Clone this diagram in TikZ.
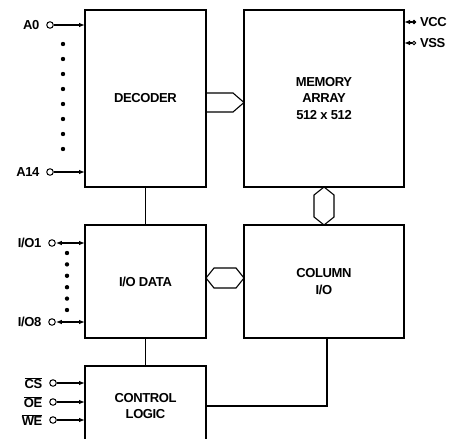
\documentclass[tikz,border=0pt]{standalone}
\usepackage{fontspec}
\setmainfont{Liberation Sans}[LetterSpace=-3]
\usetikzlibrary{positioning,arrows.meta,calc}

\begin{document}
\begin{tikzpicture}[
  x=1pt, y=-1pt,
  node distance=38pt,
  line width=1.1pt,
  font=\fontsize{13}{16.5}\selectfont\bfseries,
  blk/.style={draw=black, inner sep=0pt, outer sep=0pt, align=center},
  pad/.style={draw=black, circle, fill=white, inner sep=0pt, minimum size=6.5pt, line width=1pt},
  sup/.style={draw=black, circle, inner sep=0pt, minimum size=3.5pt, line width=0.8pt},
  bus/.style={draw=black, line width=1.1pt, line join=miter},
  sig/.style={-{Latex[length=6pt,width=4.5pt]}},
  bid/.style={{Latex[length=6pt,width=4.5pt]}-{Latex[length=6pt,width=4.5pt]}}]
\useasboundingbox (0,0) rectangle (454,438);
% blocks
\node[blk, minimum width=121pt, minimum height=177pt] (dec) at (145.5,98.5) {DECODER};
\node[blk, minimum width=160pt, minimum height=177pt, right=of dec] (mem) {MEMORY\\ARRAY\\512 x 512};
\node[blk, minimum width=121pt, minimum height=113pt, below=of dec] (io) {I/O DATA};
\node[blk, minimum width=160pt, minimum height=113pt, right=of io] (col) {COLUMN\\I/O};
\node[blk, minimum width=121pt, minimum height=80pt, below=28pt of io] (ctrl) {CONTROL\\LOGIC};
% address pins
\node[pad, label={[label distance=3pt]left:A0}] (a0) at (50,25) {};
\node[pad, label={[label distance=3pt]left:A14}] (a14) at (50,172) {};
\draw[sig] (a0) -- (a0 -| dec.west);
\draw[sig] (a14) -- (a14 -| dec.west);
\foreach \i in {0,...,7}
  \fill (63,44+15*\i) circle (2.2pt);
% data pins
\node[pad, label={[label distance=3pt]left:I/O1}] (io1) at (52,243) {};
\node[pad, label={[label distance=3pt]left:I/O8}] (io8) at (52,322) {};
\draw[bid] (io1) -- (io1 -| io.west);
\draw[bid] (io8) -- (io8 -| io.west);
\foreach \i in {0,...,5}
  \fill (67,253+11.4*\i) circle (2.2pt);
% control pins
\node[pad, label={[label distance=3pt]left:$\overline{\mbox{CS}}$}] (cs) at (53,383) {};
\node[pad, label={[label distance=3pt]left:$\overline{\mbox{OE}}$}] (oe) at (53,402) {};
\node[pad, label={[label distance=3pt]left:$\overline{\mbox{WE}}$}] (we) at (53,420) {};
\foreach \p in {cs,oe,we}
  \draw[sig] (\p) -- (\p -| ctrl.west);
% supply pins
\node[sup, fill=black, label={[label distance=0pt]right:VCC}] (vcc) at (414,22) {};
\node[sup, fill=white, label={[label distance=0pt]right:VSS}] (vss) at (414,43) {};
\draw[sig] (vcc) -- (vcc -| mem.east);
\draw[sig] (vss) -- (vss -| mem.east);
% buses
\coordinate (b1) at ($(dec.east)+(0,4)$);
\draw[bus] ($(b1)+(0,-9.5)$) -- ($(b1 -| mem.west)+(-11,-9.5)$) -- (b1 -| mem.west)
  -- ($(b1 -| mem.west)+(-11,9.5)$) -- ($(b1)+(0,9.5)$);
\coordinate (b2) at (mem.south);
\draw[bus] (b2) -- ($(b2)+(10,8)$) -- ($(b2 |- col.north)+(10,-8)$) -- (b2 |- col.north)
  -- ($(b2 |- col.north)+(-10,-8)$) -- ($(b2)+(-10,8)$) -- cycle;
\coordinate (b3) at ($(io.east)+(0,-3.5)$);
\draw[bus] (b3) -- ($(b3)+(8,-10)$) -- ($(b3 -| col.west)+(-8,-10)$) -- (b3 -| col.west)
  -- ($(b3 -| col.west)+(-8,10)$) -- ($(b3)+(8,10)$) -- cycle;
% connections
\draw (dec.south) -- (io.north);
\draw (io.south) -- (ctrl.north);
\draw ($(col.south)+(3,0)$) |- (ctrl.east);
\end{tikzpicture}
\end{document}
